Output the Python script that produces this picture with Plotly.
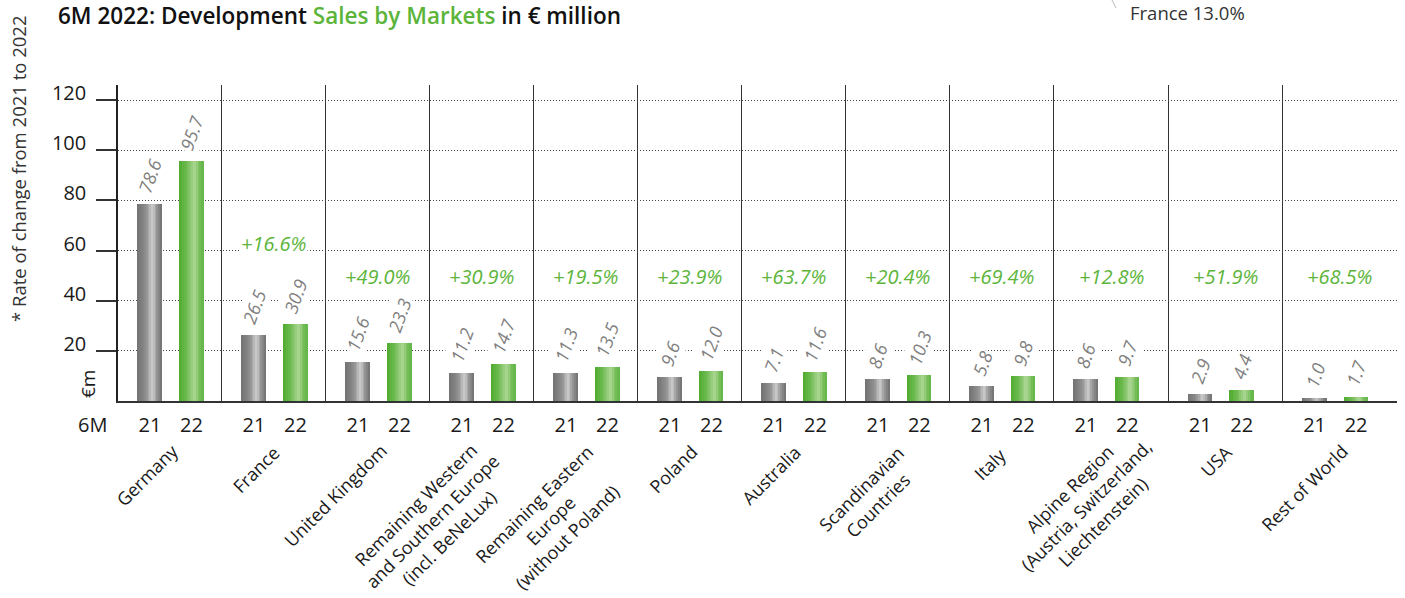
import plotly.graph_objects as go

# ---------------- data ----------------
markets = [
    "Germany",
    "France",
    "United Kingdom",
    "Remaining Western<br>and Southern Europe<br>(incl. BeNeLux)",
    "Remaining Eastern<br>Europe<br>(without Poland)",
    "Poland",
    "Australia",
    "Scandinavian<br>Countries",
    "Italy",
    "Alpine Region<br>(Austria, Switzerland,<br>Liechtenstein)",
    "USA",
    "Rest of World",
]
sales_2021 = [78.6, 26.5, 15.6, 11.2, 11.3, 9.6, 7.1, 8.6, 5.8, 8.6, 2.9, 1.0]
sales_2022 = [95.7, 30.9, 23.3, 14.7, 13.5, 12.0, 11.6, 10.3, 9.8, 9.7, 4.4, 1.7]
change_labels = ["+21.8%*", "+16.6%", "+49.0%", "+30.9%", "+19.5%", "+23.9%",
                 "+63.7%", "+20.4%", "+69.4%", "+12.8%", "+51.9%", "+68.5%"]
period_labels = ["21", "22"]
y_tick_values = [20, 40, 60, 80, 100, 120]

title_parts = ["6M 2022: Development ", "Sales by Markets", " in € million"]
side_note = "* Rate of change from 2021 to 2022"
pie_note = "France 13.0%"

# ---------------- layout / style ----------------
W, H = 1405, 598
PX_L, PX_R, PX_T, PX_B = 118, 1397, 85, 401
GREEN_TXT = "#5cb53a"
GRAY_TXT = "#808080"
DARK = "#1a1a1a"
FONT = "Open Sans, Noto Sans, DejaVu Sans, sans-serif"

group_widths = [1.0] * 9 + [1.1] * 3
UNIT_PX = 104.0
bar_w = 24 / UNIT_PX
off21 = 32 / UNIT_PX
off22 = 73.5 / UNIT_PX
change_label_y = {0: 136.4, 1: 63.0}
change_label_default_y = 49.5
cat_label_dx = {3: -13, 9: -5}   # manual horizontal nudges of some category labels (px)

bounds = [0.0]
for w in group_widths:
    bounds.append(bounds[-1] + w)
centers = [(bounds[i] + bounds[i + 1]) / 2 for i in range(len(group_widths))]
x21 = [bounds[i] + off21 for i in range(len(group_widths))]
x22 = [bounds[i] + off22 for i in range(len(group_widths))]


def paper_x(px):
    return (px - PX_L) / (PX_R - PX_L)


def paper_y(py):
    return (PX_B - py) / (PX_B - PX_T)


def hex2rgb(h):
    h = h.lstrip("#")
    return tuple(int(h[i:i + 2], 16) for i in (0, 2, 4))


def interp(stops, t):
    for (t0, c0), (t1, c1) in zip(stops, stops[1:]):
        if t0 <= t <= t1:
            a, b = hex2rgb(c0), hex2rgb(c1)
            f = (t - t0) / (t1 - t0) if t1 > t0 else 0
            r = [round(a[k] + (b[k] - a[k]) * f) for k in range(3)]
            return "rgb(%d,%d,%d)" % tuple(r)
    return stops[-1][1]


gray_stops = [(0, "#727272"), (0.35, "#8e8e8e"), (0.62, "#cbcbcb"), (0.85, "#8c8c8c"), (1, "#707070")]
green_stops = [(0, "#4fab2e"), (0.35, "#70bc53"), (0.64, "#aed796"), (0.85, "#7ac05e"), (1, "#62b446")]
N_STRIPS = 14

fig = go.Figure()
for xs, vals, stops in ((x21, sales_2021, gray_stops), (x22, sales_2022, green_stops)):
    for j in range(N_STRIPS):
        t = (j + 0.5) / N_STRIPS
        fig.add_trace(go.Bar(
            x=[xc - bar_w / 2 + (j + 0.5) * bar_w / N_STRIPS for xc in xs],
            y=vals,
            width=bar_w / N_STRIPS * 1.1,
            marker=dict(color=interp(stops, t), line=dict(width=0)),
            hoverinfo="skip",
            showlegend=False,
        ))

annotations = []

# value labels above bars
for xs, vals in ((x21, sales_2021), (x22, sales_2022)):
    for xc, v in zip(xs, vals):
        annotations.append(dict(
            x=xc, y=v, xref="x", yref="y", text=f"{v:.1f}", showarrow=False,
            textangle=-70, xanchor="center", yanchor="bottom", yshift=5,
            font=dict(family=FONT, size=18, color=GRAY_TXT, style="italic"),
            bgcolor="white", borderpad=1,
        ))

# rate of change labels
for i, (xc, lab) in enumerate(zip(centers, change_labels)):
    annotations.append(dict(
        x=xc, y=change_label_y.get(i, change_label_default_y), xref="x", yref="y",
        text=lab, showarrow=False, xanchor="center", yanchor="middle",
        font=dict(family=FONT, size=20, color=GREEN_TXT, style="italic"),
        bgcolor="white",
    ))


# category labels (rotated, centred lines)
def text_w(s, size):
    w = 0
    for c in s:
        if c == " ":
            w += 0.26
        elif c in "il.,;:|!'":
            w += 0.25
        elif c in "ftrj()":
            w += 0.34
        elif c in "mwMW":
            w += 0.86
        elif c.isupper():
            w += 0.64
        else:
            w += 0.56
    return w * size


CAT_SIZE = 18
LH = CAT_SIZE * 1.3
R = 0.7071
for i, (xc, lab) in enumerate(zip(centers, markets)):
    lines = lab.split("<br>")
    n = len(lines)
    w1 = text_w(lines[0], CAT_SIZE)
    ex, ey = 3.0 + cat_label_dx.get(i, 0), 449 - PX_B  # end of first line
    cx = ex - R * w1 / 2 + R * (n - 1) / 2 * LH
    cy = ey + R * w1 / 2 + R * (n - 1) / 2 * LH
    annotations.append(dict(
        x=xc, y=0, xref="x", yref="paper", text=lab, showarrow=False,
        textangle=-45, align="center", xanchor="center", yanchor="middle",
        xshift=cx, yshift=-cy,
        font=dict(family=FONT, size=CAT_SIZE, color=DARK),
    ))

# small fixed texts
annotations += [
    dict(x=paper_x(92), y=paper_y(424), xref="paper", yref="paper", text="6M",
         showarrow=False, xanchor="center", yanchor="middle",
         font=dict(family=FONT, size=20, color=DARK)),
    dict(x=paper_x(88), y=paper_y(384), xref="paper", yref="paper", text="€m",
         showarrow=False, textangle=-90, xanchor="center", yanchor="middle",
         font=dict(family=FONT, size=19, color=DARK)),
    dict(x=paper_x(18), y=paper_y(169), xref="paper", yref="paper", text=side_note,
         showarrow=False, textangle=-90, xanchor="center", yanchor="middle",
         font=dict(family=FONT, size=18.5, color="#333333")),
    dict(x=paper_x(57), y=paper_y(16), xref="paper", yref="paper",
         text=title_parts[0] + f"<span style='color:{GREEN_TXT}'>" + title_parts[1] + "</span>" + title_parts[2],
         showarrow=False, xanchor="left", yanchor="middle", borderpad=0,
         font=dict(family=FONT, size=22.5, color="#111111", weight=600)),
    dict(x=paper_x(1129), y=paper_y(12), xref="paper", yref="paper", text=pie_note,
         showarrow=False, xanchor="left", yanchor="middle", borderpad=0,
         font=dict(family=FONT, size=18.5, color="#333333")),
]

shapes = [dict(type="line", xref="paper", yref="paper",
               x0=paper_x(1112), y0=paper_y(0), x1=paper_x(1116), y1=paper_y(8),
               line=dict(color="#bbbbbb", width=1))]

tick_x, tick_t = [], []
for a, b in zip(x21, x22):
    tick_x += [a, b]
    tick_t += period_labels

fig.update_layout(
    width=W, height=H,
    margin=dict(l=PX_L, r=W - PX_R, t=PX_T, b=H - PX_B, pad=0),
    paper_bgcolor="white", plot_bgcolor="white",
    barmode="overlay", bargap=0,
    font=dict(family=FONT, color=DARK),
    annotations=annotations, shapes=shapes,
    xaxis=dict(
        range=[0, bounds[-1]], tickmode="array", tickvals=tick_x, ticktext=tick_t,
        ticks="", showgrid=False, zeroline=False,
        showline=True, linecolor="#333333", linewidth=2,
        tickfont=dict(family=FONT, size=20, color=DARK), ticklabelstandoff=5,
        minor=dict(tickmode="array", tickvals=bounds[1:-1], showgrid=True,
                   gridcolor="#333333", gridwidth=1.3, ticks=""),
        fixedrange=True,
    ),
    yaxis=dict(
        range=[0, 126], tickmode="array", tickvals=y_tick_values,
        ticks="outside", ticklen=20, tickwidth=1.5, tickcolor="#333333",
        ticklabelposition="outside", ticklabelstandoff=6, ticklabelshift=-7,
        showgrid=True, gridcolor="#444444", gridwidth=1, griddash="1px,2px",
        zeroline=False, showline=True, linecolor="#222222", linewidth=1.5,
        tickfont=dict(family=FONT, size=20, color=DARK),
        fixedrange=True,
    ),
)

fig.write_html("out.html", config={"displayModeBar": False})

# remove the default page margin so the figure sits at the window's top-left corner
with open("out.html", "r", encoding="utf-8") as f:
    html = f.read()
html = html.replace("<body>", '<body style="margin:0;padding:0">', 1)
with open("out.html", "w", encoding="utf-8") as f:
    f.write(html)
